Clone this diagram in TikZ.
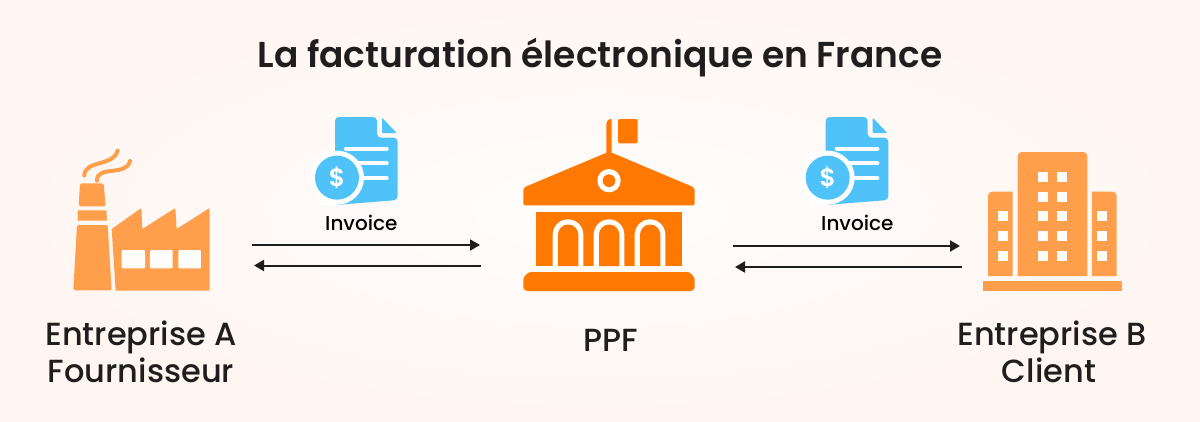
\documentclass[tikz,border=0pt]{standalone}
\usepackage{fontspec}
\setmainfont{Poppins}
\newfontfamily\popsemi{Poppins SemiBold}
\newfontfamily\popmed{Poppins Medium}
\definecolor{bgin}{HTML}{FFFDFC}
\definecolor{bgout}{HTML}{FFF6F2}
\definecolor{lightor}{HTML}{FF9F4B}
\definecolor{deepor}{HTML}{FF7900}
\definecolor{docblue}{HTML}{4FC3F9}
\definecolor{inkc}{HTML}{1E1E1E}
\usetikzlibrary{arrows.meta}
\tikzset{
  zoomed/.style={x=0.33333pt,y=-0.33333pt},
  titletext/.style={anchor=base,text=inkc,inner sep=0pt,font=\popsemi\fontsize{36}{42}\selectfont},
  labeltext/.style={anchor=base,text=inkc,inner sep=0pt,font=\popmed\fontsize{32}{38}\selectfont},
  smalltext/.style={anchor=base,text=black,inner sep=0pt,font=\popmed\fontsize{20}{24}\selectfont},
  flow/.style={draw=inkc,line width=2pt,-{Triangle[length=10pt,width=11pt]}},
  smoke/.style={draw=lightor,line width=4pt,line cap=round},
  docline/.style={draw=white,line width=4pt,line cap=round}
}
\newcommand{\invoiceicon}[2]{%
\begin{scope}[shift={(#1,#2)},zoomed]
  \fill[docblue,rounded corners=4pt] (285,300) -- (285,36) -- (411,36) -- (411,98) -- (473,98) -- (473,285) -- cycle;
  \fill[docblue,rounded corners=1pt] (426,38) -- (470,84) -- (426,84) -- cycle;
  \draw[docline] (318,131) -- (440,131);
  \draw[docline] (350,175) -- (440,175);
  \draw[docline] (350,219) -- (440,219);
  \fill[white] (285,140) rectangle (240,300);
  \fill[white] (291,218) circle[radius=81];
  \fill[docblue] (291,218) circle[radius=66];
  \node[inner sep=0pt,text=white,font=\popsemi\fontsize{25}{25}\selectfont] at (291,218) {\$};
\end{scope}}
\begin{document}
\begin{tikzpicture}[x=1pt,y=-1pt]
\useasboundingbox (0,0) rectangle (1200,421);
\shade[inner color=bgin,outer color=bgout] (0,0) rectangle (1200,421);

% factory
\begin{scope}[shift={(50,130)},zoomed]
  \fill[lightor,rounded corners=1.5pt] (90,160) -- (161,160) -- (167,229) -- (86,229) -- cycle;
  \fill[lightor] (84,241) -- (169,241) -- (171,272) -- (83,272) -- cycle;
  \fill[lightor,rounded corners=1.5pt] (81,285) -- (173,285) -- (185,481) -- (70,481) -- cycle;
  \fill[lightor,rounded corners=1pt] (185,297) -- (274,234) -- (277,297) -- (376,234) -- (380,297) -- (479,234) -- (479,482) -- (197,482) -- cycle;
  \fill[bgin,rounded corners=1pt] (215,360) rectangle (285,415);
  \fill[bgin,rounded corners=1pt] (300,360) rectangle (368,415);
  \fill[bgin,rounded corners=1pt] (385,360) rectangle (453,415);
  \draw[smoke] (103,137) .. controls (103,90) and (190,110) .. (203,62);
  \draw[smoke] (141,152) .. controls (140,105) and (230,140) .. (240,93);
\end{scope}

% public building
\begin{scope}[shift={(500,105)},zoomed]
  \fill[deepor] (319,150) -- (319,60) .. controls (319,48) and (325,42) .. (335,42) -- (335,150) -- cycle;
  \fill[deepor,rounded corners=2pt] (354,42) -- (413,42) -- (413,115) -- (354,115) -- cycle;
  \fill[deepor,rounded corners=2pt] (70,248) -- (320,143) -- (335,143) -- (584,248) -- (584,301) -- (70,301) -- cycle;
  \fill[white] (327,227) circle[radius=35];
  \fill[deepor] (327,227) circle[radius=19];
  \fill[deepor] (108,321) rectangle (546,483);
  \foreach \ax in {158,281,404}{
    \fill[white] (\ax,483) -- (\ax,389) arc[start angle=180,end angle=360,radius=46] -- (\ax+92,483) -- cycle;
    \fill[deepor] (\ax+16,483) -- (\ax+16,389) arc[start angle=180,end angle=360,radius=30.5] -- (\ax+77,483) -- cycle;
  }
  \fill[deepor,rounded corners=4pt] (70,558) -- (70,535) .. controls (70,515) and (85,501) .. (105,501) -- (550,501) .. controls (570,501) and (584,515) .. (584,535) -- (584,558) -- cycle;
\end{scope}

% office block
\begin{scope}[shift={(970,140)},zoomed]
  \fill[lightor] (143,408) [rounded corners=4pt] -- (143,36) -- (352,36) [sharp corners] -- (352,408) -- cycle;
  \fill[lightor] (54,408) [rounded corners=4pt] -- (54,155) [sharp corners] -- (128,155) -- (128,408) -- cycle;
  \fill[lightor] (366,408) -- (366,155) [rounded corners=4pt] -- (440,155) [sharp corners] -- (440,408) -- cycle;
  \fill[lightor] (39,423) rectangle (456,453);
  \foreach \wy in {95,155,214,274,333}{
    \fill[bgin] (203,\wy) rectangle +(30,30);
    \fill[bgin] (262,\wy) rectangle +(30,30);
  }
  \foreach \wy in {214,274,333}{
    \fill[bgin] (83,\wy) rectangle +(30,30);
    \fill[bgin] (381,\wy) rectangle +(30,30);
  }
\end{scope}

\invoiceicon{240}{105}
\invoiceicon{730.7}{105}

% text
\node[titletext] (title) at (600,67.5) {La facturation électronique en France};
\node[labeltext] (ea) at (141,345) {Entreprise A};
\node[labeltext] (fo) at (141,382) {Fournisseur};
\node[labeltext] (ppf) at (610.5,351) {PPF};
\node[labeltext] (eb) at (1052,345) {Entreprise B};
\node[labeltext] (cl) at (1049,382) {Client};
\node[smalltext] (inv1) at (361.3,230) {Invoice};
\node[smalltext] (inv2) at (857.3,230) {Invoice};

% connectors
\coordinate (a1) at (252,245); \coordinate (b1) at (480,245);
\coordinate (b2) at (481,265.5); \coordinate (a2) at (254,265.5);
\coordinate (c1) at (733,246); \coordinate (d1) at (960,246);
\coordinate (d2) at (962,267); \coordinate (c2) at (735,267);
\draw[flow] (a1) -- (b1);
\draw[flow] (b2) -- (a2);
\draw[flow] (c1) -- (d1);
\draw[flow] (d2) -- (c2);
\end{tikzpicture}
\end{document}
